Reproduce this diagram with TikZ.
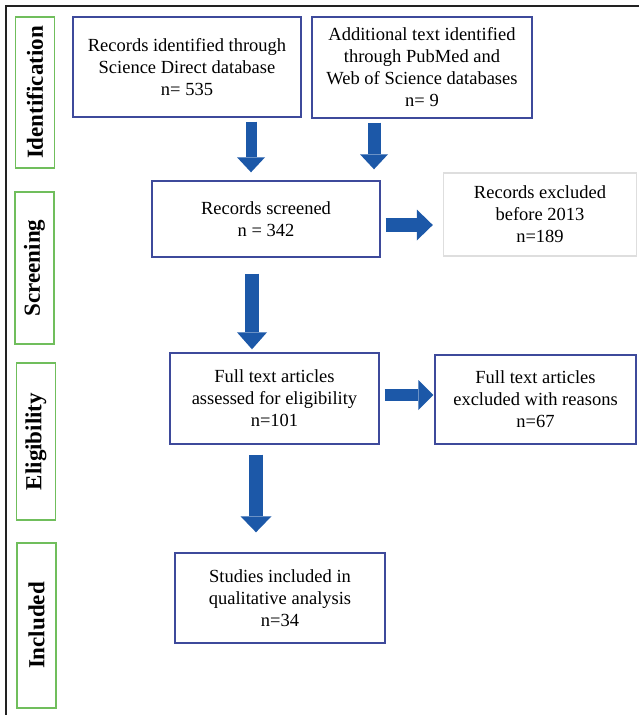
\documentclass[tikz,border=0pt]{standalone}
\usepackage{fontspec}
\setmainfont{Liberation Serif}
\usetikzlibrary{arrows.meta,calc}
\definecolor{boxblue}{RGB}{62,74,155}
\definecolor{sidegreen}{RGB}{112,190,92}
\definecolor{arrowblue}{RGB}{28,88,168}
\definecolor{lightgray}{RGB}{222,222,222}
\definecolor{frame}{RGB}{34,34,34}
\begin{document}
\begin{tikzpicture}[x=1pt,y=-1pt,
  box/.style={draw=boxblue,line width=1.4pt,align=center,inner sep=0pt,
    font=\fontsize{18.5}{22}\selectfont},
  graybox/.style={box,draw=lightgray},
  side/.style={draw=sidegreen,line width=1.4pt,rotate=90,inner sep=0pt,
    minimum height=39pt,font=\bfseries\fontsize{23}{23}\selectfont},
  barrow/.style={draw=arrowblue,line width=#1},
  tipA/.style={-{Triangle[width=29pt,length=16pt,line width=0pt,fill=arrowblue]}}
]
\useasboundingbox (0,0) rectangle (639,715);
% outer frame
\coordinate (ftl) at (6,6);
\coordinate (ftr) at (639,6);
\coordinate (fbl) at (6,715);
\draw[frame,line width=2.3pt] (ftr) -- (ftl) -- (fbl);

% side labels
\node[side,minimum width=151pt] (sid) at (35,92.5) {Identification};
\node[side,minimum width=152pt] (ssc) at (34.5,268) {Screening};
\node[side,minimum width=157pt] (sel) at (36,441.5) {Eligibility};
\node[side,minimum width=165pt] (sin) at (36.5,625.5) {Included};

% boxes
\node[box,minimum width=228pt,minimum height=100pt] (rec) at (187,67)
  {Records identified through\\Science Direct database\\n= 535};
\node[box,minimum width=220pt,minimum height=101pt] (add) at (422,67.5)
  {Additional text identified\\through PubMed and\\Web of Science databases\\n= 9};
\node[box,minimum width=228pt,minimum height=76pt] (scr) at (266,219)
  {Records screened\\n = 342};
\node[graybox,minimum width=193pt,minimum height=83pt] (exc) at (540,214.5)
  {Records excluded\\before 2013\\n=189};
\node[box,minimum width=209pt,minimum height=91pt] (full) at (274.5,398.5)
  {Full text articles\\assessed for eligibility\\n=101};
\node[box,minimum width=201pt,minimum height=89pt] (fex) at (535.5,399.5)
  {Full text articles\\excluded with reasons\\n=67};
\node[box,minimum width=210pt,minimum height=90pt] (inc) at (280,598)
  {Studies included in\\qualitative analysis\\n=34};

% arrow columns
\coordinate (c1) at (251,0);
\coordinate (c2) at (374,0);
\coordinate (c3) at (252,0);
\coordinate (c4) at (256,0);
\coordinate (r1) at (0,225);
\coordinate (r2) at (0,395);

\draw[barrow=11pt,-{Triangle[width=28pt,length=15pt,line width=0pt,fill=arrowblue]},
  shorten <=4pt,shorten >=8pt] (rec.south -| c1) -- (scr.north -| c1);
\draw[barrow=13pt,-{Triangle[width=28pt,length=15pt,line width=0pt,fill=arrowblue]},
  shorten <=4pt,shorten >=11pt] (add.south -| c2) -- (scr.north -| c2);
\draw[barrow=14pt,-{Triangle[width=30pt,length=17pt,line width=0pt,fill=arrowblue]},
  shorten <=16pt,shorten >=3pt] (scr.south -| c3) -- (full.north -| c3);
\draw[barrow=14pt,-{Triangle[width=31pt,length=16pt,line width=0pt,fill=arrowblue]},
  shorten <=10pt,shorten >=20pt] (full.south -| c4) -- (inc.north -| c4);
\draw[barrow=14pt,-{Triangle[width=31pt,length=16pt,line width=0pt,fill=arrowblue]},
  shorten <=5pt,shorten >=10pt] (scr.east |- r1) -- (exc.west |- r1);
\draw[barrow=12pt,-{Triangle[width=30pt,length=15pt,line width=0pt,fill=arrowblue]},
  shorten <=5pt,shorten >=1pt] (full.east |- r2) -- (fex.west |- r2);
\end{tikzpicture}
\end{document}
